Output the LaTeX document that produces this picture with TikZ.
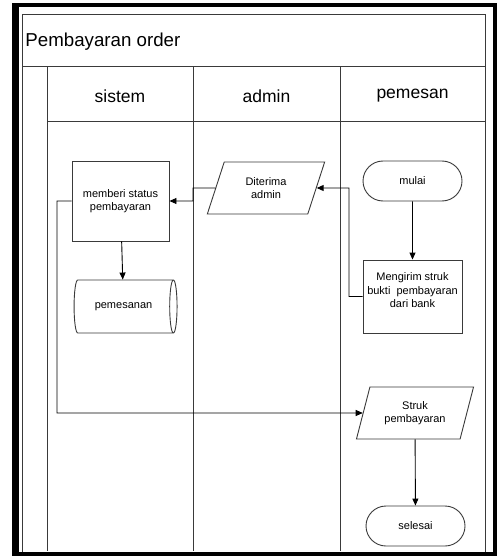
\documentclass[tikz,border=0pt]{standalone}
\usepackage{fontspec}
\setmainfont{Liberation Sans}
\usetikzlibrary{shapes.geometric,shapes.misc,arrows.meta}
\definecolor{edge}{HTML}{3A3A3A}
\begin{document}
\begin{tikzpicture}[x=1pt,y=-1pt,
  line width=0.9pt,
  small/.style={font=\fontsize{11}{13.5}\selectfont, align=center},
  procbox/.style={draw=edge, rectangle, small, minimum width=97pt, minimum height=80pt, inner sep=0pt},
  iobox/.style={draw=edge, trapezium, trapezium left angle=69, trapezium right angle=111,
                trapezium stretches=true, small, minimum width=118pt, minimum height=52pt, inner sep=0pt},
  termbox/.style={draw=edge, rounded rectangle, small, minimum width=99pt, minimum height=40pt, inner sep=0pt},
  storebox/.style={draw=edge, cylinder, aspect=0.9, small, minimum width=53pt, minimum height=103pt, inner sep=0pt},
  flow/.style={draw=black, -{Triangle[length=7pt,width=6pt]}},
  lane/.style={draw=edge, line width=1pt}
]
\useasboundingbox (0,0) rectangle (497,556);
% dark frame around the sheet
\fill[black] (12,3) rectangle (497,556);
\fill[white] (19,7) rectangle (493,551.5);

% pool and lanes
\draw[lane] (22.5,15) rectangle (485,553);
\draw[lane] (22.5,67) -- (485,67);
\draw[lane] (47,122) -- (485,122);
\draw[lane] (47,67) -- (47,551);
\draw[lane] (193,67) -- (193,551);
\draw[lane] (340,67) -- (340,551);
\fill[black] (12,551.5) rectangle (497,556);

\node[anchor=west, font=\fontsize{18.7}{22}\selectfont, inner sep=0pt] (title) at (25,42) {Pembayaran order};
\node[font=\fontsize{17.5}{20}\selectfont] (hsistem) at (120,96) {sistem};
\node[font=\fontsize{17.5}{20}\selectfont] (hadmin) at (266.5,96) {admin};
\node[font=\fontsize{17.5}{20}\selectfont] (hpemesan) at (412.5,96) {pemesan};

% flow elements
\node[procbox] (status) at (120.5,201) {memberi status\\pembayaran};
\node[storebox] (db) at (123.5,306.5) {pemesanan};
\node[iobox] (terima) at (266,188) {Diterima\\admin};
\node[termbox] (mulai) at (412.5,181) {mulai};
\node[procbox, minimum width=99pt, minimum height=73pt] (kirim) at (412.5,296.5) {};
\node[small] (kirimtxt) at ([yshift=6pt]kirim.center) {Mengirim struk\\bukti\ \ pembayaran\\dari bank};
\node[iobox] (struk) at (415,413) {Struk\\pembayaran};
\node[termbox] (selesai) at (415.5,526) {selesai};

% connectors
\coordinate (ka) at (349,296.5);
\coordinate (kb) at (349,188);
\coordinate (ta) at (193,188);
\coordinate (tb) at (193,201);
\coordinate (sa) at (57,201);
\coordinate (sb) at (57,413);

\draw[flow] (mulai) -- (kirim);
\draw[flow] (kirim.west) -- (ka) -- (kb) -- (terima.east);
\draw[flow] (terima.west) -- (ta) -- (tb) -- (status.east);
\draw[flow] (status) -- (db);
\draw[flow] (status.west) -- (sa) -- (sb) -- (struk.west);
\draw[flow] (struk) -- (selesai);
\end{tikzpicture}
\end{document}
